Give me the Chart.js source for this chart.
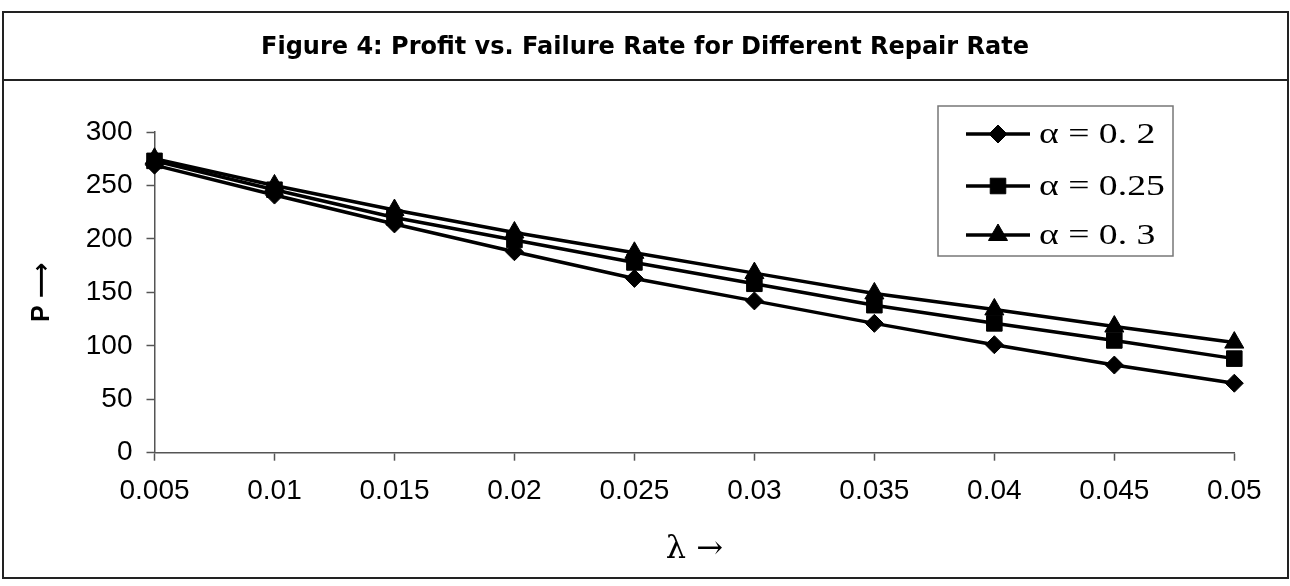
<!DOCTYPE html>
<html>
<head>
<meta charset="utf-8">
<title>Profit vs. Failure Rate</title>
<script src="https://cdn.jsdelivr.net/npm/chart.js@4/dist/chart.umd.min.js"></script>
<style>
  html, body { margin: 0; padding: 0; background: #fff; }
  #wrap { width: 1290px; height: 586px; }
</style>
</head>
<body>
<div id="wrap"><canvas id="c" width="1290" height="586"></canvas></div>
<script>
// Failure rate λ (x categories)
const lambdas = ['0.005', '0.01', '0.015', '0.02', '0.025', '0.03', '0.035', '0.04', '0.045', '0.05'];

// Profit P for each repair rate α
const profitAlpha020 = [269, 241, 214, 188, 163, 142, 121, 101, 82, 65];
const profitAlpha025 = [273, 246, 220, 199, 178, 158, 138, 121, 105, 88];
const profitAlpha030 = [275, 250, 227, 206, 187, 168, 149, 134, 118, 103];

const seriesLabels = ['α = 0. 2', 'α = 0.25', 'α = 0. 3'];
const seriesStyles = ['rectRot', 'rect', 'triangle'];
const seriesRadius = [9, 11, 11];

const titleText = 'Figure 4: Profit vs. Failure Rate for Different Repair Rate';
const yTitle = 'P ⟶';
const xTitle = 'λ →';

const AXIS = '#555';

// Frame: outer border and the rule under the title
const framePlugin = {
  id: 'frame',
  beforeDraw(chart) {
    const ctx = chart.ctx;
    ctx.save();
    ctx.fillStyle = '#fff';
    ctx.fillRect(0, 0, chart.width, chart.height);
    ctx.strokeStyle = '#222';
    ctx.lineWidth = 2;
    ctx.strokeRect(3, 12, 1285, 566);
    ctx.beginPath();
    ctx.moveTo(3, 80);
    ctx.lineTo(1288, 80);
    ctx.stroke();
    ctx.restore();
  }
};

// Boxed legend inside the plot, top right
const boxLegendPlugin = {
  id: 'boxLegend',
  afterDraw(chart) {
    const ctx = chart.ctx;
    const box = { x: 938, y: 106, w: 235, h: 150 };
    const rows = [134, 186, 235];
    ctx.save();
    ctx.fillStyle = '#fff';
    ctx.fillRect(box.x, box.y, box.w, box.h);
    ctx.strokeStyle = '#777';
    ctx.lineWidth = 1.5;
    ctx.strokeRect(box.x, box.y, box.w, box.h);
    chart.data.datasets.forEach((ds, i) => {
      const y = rows[i];
      ctx.strokeStyle = '#000';
      ctx.lineWidth = 3.5;
      ctx.beginPath();
      ctx.moveTo(966, y);
      ctx.lineTo(1030, y);
      ctx.stroke();
      ctx.fillStyle = '#000';
      ctx.lineWidth = 1;
      Chart.helpers.drawPoint(ctx, {
        pointStyle: ds.pointStyle,
        radius: ds.pointRadius,
        rotation: 0,
        borderWidth: 1
      }, 998, y);
      ctx.save();
      ctx.translate(1039, y);
      ctx.scale(1.3, 1);
      ctx.fillStyle = '#000';
      ctx.font = '29px "Liberation Serif", "DejaVu Serif", serif';
      ctx.textBaseline = 'middle';
      ctx.textAlign = 'left';
      ctx.fillText(ds.label, 0, 1);
      ctx.restore();
    });
    ctx.restore();
  }
};

const profits = [profitAlpha020, profitAlpha025, profitAlpha030];

const datasets = profits.map((vals, i) => ({
  label: seriesLabels[i],
  data: vals,
  yAxisID: 'y',
  borderColor: '#000',
  backgroundColor: '#000',
  borderWidth: 3.5,
  pointStyle: seriesStyles[i],
  pointRadius: seriesRadius[i],
  pointBorderWidth: 1,
  pointBackgroundColor: '#000',
  pointBorderColor: '#000',
  tension: 0,
  fill: false,
  order: 3 - i
}));

new Chart(document.getElementById('c'), {
  type: 'line',
  data: { labels: lambdas, datasets },
  options: {
    responsive: false,
    animation: false,
    devicePixelRatio: 1,
    layout: { padding: 0 },
    plugins: {
      legend: { display: false },
      tooltip: { enabled: false },
      title: {
        display: true,
        text: titleText,
        color: '#000',
        font: { family: '"DejaVu Sans", Verdana, sans-serif', size: 24, weight: 'bold', lineHeight: 1.2 },
        padding: { top: 33.1, bottom: 70.1 }
      }
    },
    scales: {
      x: {
        type: 'category',
        offset: false,
        afterFit(scale) { scale.height = 586 - 452.7; },
        grid: {
          offset: false,
          drawOnChartArea: false,
          drawTicks: true,
          tickLength: 8,
          tickColor: AXIS,
          tickWidth: 1.5
        },
        border: { display: true, color: AXIS, width: 1.5 },
        ticks: {
          color: '#000',
          padding: 14,
          maxRotation: 0,
          autoSkip: false,
          font: { family: '"Liberation Sans", Arial, sans-serif', size: 28 }
        },
        title: {
          display: true,
          text: xTitle,
          color: '#000',
          font: { family: '"DejaVu Serif", "Liberation Serif", serif', size: 32, lineHeight: 1.2 },
          padding: { top: 0, bottom: 17 }
        }
      },
      y: {
        min: 0,
        max: 300,
        afterFit(scale) { scale.width = 154.5; },
        grid: {
          drawOnChartArea: false,
          drawTicks: true,
          tickLength: 8,
          tickColor: AXIS,
          tickWidth: 1.5
        },
        border: { display: true, color: AXIS, width: 1.5 },
        ticks: {
          stepSize: 50,
          color: '#000',
          padding: 14,
          font: { family: '"Liberation Sans", Arial, sans-serif', size: 28 }
        },
        title: {
          display: true,
          text: yTitle,
          color: '#000',
          font: { family: '"Liberation Sans", "DejaVu Sans", sans-serif', size: 25, weight: 'bold', lineHeight: 1.2 },
          padding: { top: 27, bottom: 0 }
        }
      },
      // blank right-hand margin strip beside the plot
      yRight: {
        position: 'right',
        display: true,
        min: 0,
        max: 300,
        afterFit(scale) { scale.width = 55.7; },
        grid: { display: false, drawTicks: false },
        border: { display: false },
        ticks: { display: false }
      }
    }
  },
  plugins: [framePlugin, boxLegendPlugin]
});
</script>
</body>
</html>
